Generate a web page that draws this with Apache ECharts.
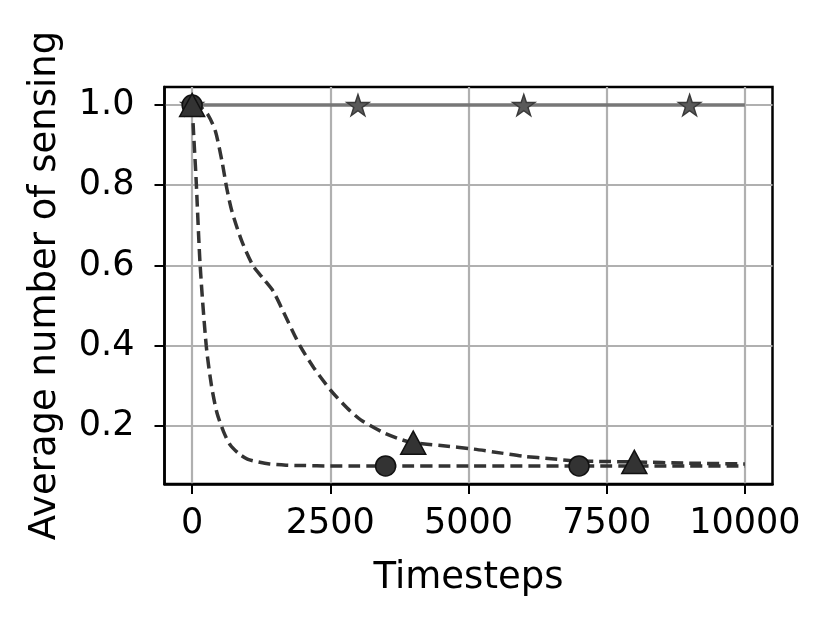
<!DOCTYPE html>
<html>
<head>
<meta charset="utf-8">
<script src="https://cdn.jsdelivr.net/npm/echarts@6/dist/echarts.min.js"></script>
<style>
  html, body { margin: 0; padding: 0; background: #fff; }
  #main { width: 832px; height: 626px; }
</style>
</head>
<body>
<div id="main"></div>
<script>
// tick values
var xTicks = [0, 2500, 5000, 7500, 10000];
var yTicks = [0.2, 0.4, 0.6, 0.8, 1.0];

// always sensing (solid, stars)
var alwaysT = [0, 3000, 6000, 9000, 10000];
var alwaysV = [1.0, 1.0, 1.0, 1.0, 1.0];
var alwaysMarks = [0, 3000, 6000, 9000];

// fast decay (dashed, circles)
var fastT = [0, 30, 70, 145, 255, 350, 450, 570, 690, 850, 1000, 1200, 1400, 1700, 2000, 2500, 3000, 3500, 5000, 7000, 8500, 10000];
var fastV = [1.0, 0.92, 0.82, 0.6, 0.4, 0.3, 0.232, 0.185, 0.152, 0.13, 0.117, 0.11, 0.105, 0.102, 0.101, 0.1, 0.1, 0.1, 0.1, 0.1, 0.1, 0.1];
var fastMarks = [0, 3500, 7000];

// slow decay (dashed, triangles)
var slowT = [0, 150, 290, 420, 540, 630, 720, 900, 1100, 1300, 1470, 1700, 1950, 2200, 2500, 2800, 3050, 3450, 3800, 4000, 4500, 5100, 5600, 6000, 6500, 6900, 7500, 8000, 9000, 10000];
var slowV = [1.0, 0.995, 0.975, 0.935, 0.86, 0.79, 0.735, 0.66, 0.6, 0.565, 0.535, 0.47, 0.4, 0.345, 0.29, 0.245, 0.215, 0.184, 0.165, 0.158, 0.151, 0.142, 0.132, 0.124, 0.118, 0.113, 0.111, 0.11, 0.107, 0.105];
var slowMarks = [0, 4000, 8000];

var starPath = 'path://M50,0 L61.2,34.5 L97.6,34.5 L68.2,55.9 L79.4,90.5 L50,69.1 L20.6,90.5 L31.8,55.9 L2.4,34.5 L38.8,34.5 Z';

function build(ts, vs, marks, sym) {
    return ts.map(function (t, i) {
        return { value: [t, vs[i]], symbol: marks.indexOf(t) >= 0 ? sym : 'none' };
    });
}

var dom = document.getElementById('main');
var myChart = echarts.init(dom, null, { renderer: 'canvas' });
var font = 'DejaVu Sans';

var option = {
    backgroundColor: '#fff',
    animation: false,
    grid: {
        left: 164.5, right: 59.5, top: 87, bottom: 142,
        show: true, borderColor: '#000', borderWidth: 2.5, backgroundColor: 'transparent'
    },
    xAxis: {
        type: 'value',
        min: -500, max: 10500,
        name: 'Timesteps',
        nameLocation: 'middle',
        nameGap: 76,
        nameTextStyle: { fontFamily: font, fontSize: 37, color: '#000' },
        axisLine: { show: true, onZero: false, lineStyle: { color: '#000', width: 2.5 } },
        axisTick: { show: true, length: 10, lineStyle: { color: '#000', width: 2 }, customValues: xTicks },
        axisLabel: {
            fontFamily: font, fontSize: 35, color: '#000', margin: 22, customValues: xTicks,
            formatter: function (v) { return String(v); }
        },
        splitLine: { show: true, lineStyle: { color: '#b0b0b0', width: 2.2 } }
    },
    yAxis: {
        type: 'value',
        min: 0.055, max: 1.045,
        name: 'Average number of sensing',
        nameLocation: 'middle',
        nameGap: 101,
        nameTextStyle: { fontFamily: font, fontSize: 37, color: '#000' },
        axisLine: { show: true, onZero: false, lineStyle: { color: '#000', width: 2.5 } },
        axisTick: { show: true, length: 10, lineStyle: { color: '#000', width: 2 }, customValues: yTicks },
        axisLabel: {
            fontFamily: font, fontSize: 35, color: '#000', margin: 30, customValues: yTicks,
            formatter: function (v) { return v.toFixed(1); }
        },
        splitLine: { show: true, lineStyle: { color: '#b0b0b0', width: 2.2 } }
    },
    series: [
        {
            type: 'line',
            data: build(alwaysT, alwaysV, alwaysMarks, starPath),
            showAllSymbol: true,
            symbolSize: 22,
            symbolKeepAspect: true,
            lineStyle: { color: '#777', width: 3.5 },
            itemStyle: { color: '#5a5a5a', borderColor: '#3a3a3a', borderWidth: 1.5 }
        },
        {
            type: 'line',
            data: build(fastT, fastV, fastMarks, 'circle'),
            showAllSymbol: true,
            smooth: 0.25,
            symbolSize: 20,
            lineStyle: { color: '#333', width: 3.5, type: [12, 6] },
            itemStyle: { color: '#333', borderColor: '#111', borderWidth: 1.5 }
        },
        {
            type: 'line',
            data: build(slowT, slowV, slowMarks, 'triangle'),
            showAllSymbol: true,
            smooth: 0.25,
            symbolSize: [25, 23],
            lineStyle: { color: '#333', width: 3.5, type: [12, 6] },
            itemStyle: { color: '#333', borderColor: '#111', borderWidth: 1.5 }
        }
    ]
};

if (option && typeof option === 'object') {
    myChart.setOption(option, true);
}
</script>
</body>
</html>
